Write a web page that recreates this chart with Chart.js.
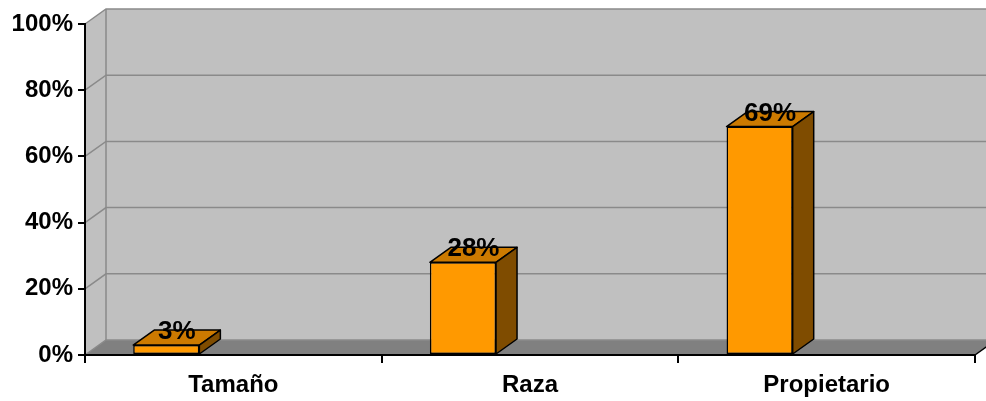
<!DOCTYPE html>
<html lang="es">
<head>
<meta charset="UTF-8" />
<title>Factores</title>
<script src="https://cdn.jsdelivr.net/npm/chart.js"></script>
<style>
  html, body { margin: 0; padding: 0; background: #ffffff; }
  #chart { display: block; }
</style>
</head>
<body>
<canvas id="chart" width="986" height="401"></canvas>
<script>
// data
var categories = ['Tamaño', 'Raza', 'Propietario'];
var values = [3, 28, 69];
var yTicks = [0, 20, 40, 60, 80, 100];

// 3d look
var DX = 21, DY = 15;
var BAR_SHIFT = 0.226;   // bars sit left of the category centre, as in the original
var WALL = '#c0c0c0', FLOOR = '#808080', GRID = '#8a8a8a';
var FRONT = '#ff9900', TOP = '#cc7a00', SIDE = '#7f4c00';

function shiftPx(chart) {
  var x = chart.scales.x;
  return -BAR_SHIFT * x.width / categories.length;
}

var walls3d = {
  id: 'walls3d',
  beforeDraw: function (chart) {
    var ctx = chart.ctx, a = chart.chartArea, y = chart.scales.y;
    var L = a.left, R = a.right, T = a.top, B = a.bottom;
    ctx.save();
    // back wall
    ctx.fillStyle = WALL;
    ctx.fillRect(L + DX, T - DY, R - L, B - T);
    // left wall
    ctx.beginPath();
    ctx.moveTo(L, T); ctx.lineTo(L + DX, T - DY); ctx.lineTo(L + DX, B - DY); ctx.lineTo(L, B);
    ctx.closePath();
    ctx.fill();
    // floor
    ctx.fillStyle = FLOOR;
    ctx.beginPath();
    ctx.moveTo(L, B); ctx.lineTo(L + DX, B - DY); ctx.lineTo(R + DX, B - DY); ctx.lineTo(R, B);
    ctx.closePath();
    ctx.fill();
    // grid lines on both walls
    ctx.strokeStyle = GRID;
    ctx.lineWidth = 1.5;
    yTicks.forEach(function (v) {
      var py = y.getPixelForValue(v);
      ctx.beginPath();
      ctx.moveTo(L, py); ctx.lineTo(L + DX, py - DY); ctx.lineTo(R + DX, py - DY);
      ctx.stroke();
    });
    ctx.beginPath();
    ctx.moveTo(L + DX, T - DY); ctx.lineTo(L + DX, B - DY);
    ctx.stroke();
    // right floor edge
    ctx.strokeStyle = '#000';
    ctx.lineWidth = 1.5;
    ctx.beginPath();
    ctx.moveTo(R, B); ctx.lineTo(R + DX, B - DY);
    ctx.stroke();
    ctx.restore();
  },
  beforeDatasetsDraw: function (chart) {
    chart.ctx.save();
    chart.ctx.translate(shiftPx(chart), 0);
  },
  afterDatasetsDraw: function (chart) {
    var ctx = chart.ctx;
    var meta = chart.getDatasetMeta(0);
    ctx.lineWidth = 1.5;
    ctx.strokeStyle = '#000';
    ctx.lineJoin = 'round';
    meta.data.forEach(function (bar, i) {
      var p = bar.getProps(['x', 'y', 'base', 'width'], true);
      var l = p.x - p.width / 2, r = p.x + p.width / 2, t = p.y, b = p.base;
      // top face
      ctx.fillStyle = TOP;
      ctx.beginPath();
      ctx.moveTo(l, t); ctx.lineTo(l + DX, t - DY); ctx.lineTo(r + DX, t - DY); ctx.lineTo(r, t);
      ctx.closePath();
      ctx.fill(); ctx.stroke();
      // side face
      ctx.fillStyle = SIDE;
      ctx.beginPath();
      ctx.moveTo(r, t); ctx.lineTo(r + DX, t - DY); ctx.lineTo(r + DX, b - DY); ctx.lineTo(r, b);
      ctx.closePath();
      ctx.fill(); ctx.stroke();
      // value label
      ctx.fillStyle = '#000';
      ctx.font = 'bold 26px "Liberation Sans", Arial, sans-serif';
      ctx.textAlign = 'center';
      ctx.textBaseline = 'alphabetic';
      ctx.fillText(values[i] + '%', p.x + DX / 2, t - 6);
    });
    ctx.restore();
  }
};

new Chart(document.getElementById('chart'), {
  type: 'bar',
  data: {
    labels: categories,
    datasets: [{
      data: values,
      backgroundColor: FRONT,
      borderColor: '#000',
      borderWidth: 1.5,
      borderSkipped: false,
      categoryPercentage: 1,
      barPercentage: 0.223
    }]
  },
  options: {
    responsive: false,
    devicePixelRatio: 1,
    animation: false,
    layout: { padding: { top: 24, right: 11, left: 0, bottom: 0 } },
    plugins: {
      legend: { display: false },
      tooltip: { enabled: false }
    },
    scales: {
      x: {
        afterFit: function (s) { s.height = 46; },
        grid: {
          offset: true,
          drawOnChartArea: false,
          drawTicks: true,
          tickLength: 8,
          color: '#000',
          lineWidth: 2
        },
        border: { display: true, color: '#000', width: 2 },
        ticks: {
          color: '#000',
          padding: 8,
          font: { family: '"Liberation Sans", Arial, sans-serif', size: 24, weight: 'bold' }
        }
      },
      y: {
        min: 0,
        max: 100,
        afterFit: function (s) { s.width = 85; },
        grid: {
          drawOnChartArea: false,
          drawTicks: true,
          tickLength: 7,
          color: '#000',
          lineWidth: 2
        },
        border: { display: true, color: '#000', width: 2 },
        ticks: {
          stepSize: 20,
          color: '#000',
          padding: 5,
          font: { family: '"Liberation Sans", Arial, sans-serif', size: 24, weight: 'bold' },
          callback: function (v) { return v + '%'; }
        }
      }
    }
  },
  plugins: [walls3d]
});
</script>
</body>
</html>
